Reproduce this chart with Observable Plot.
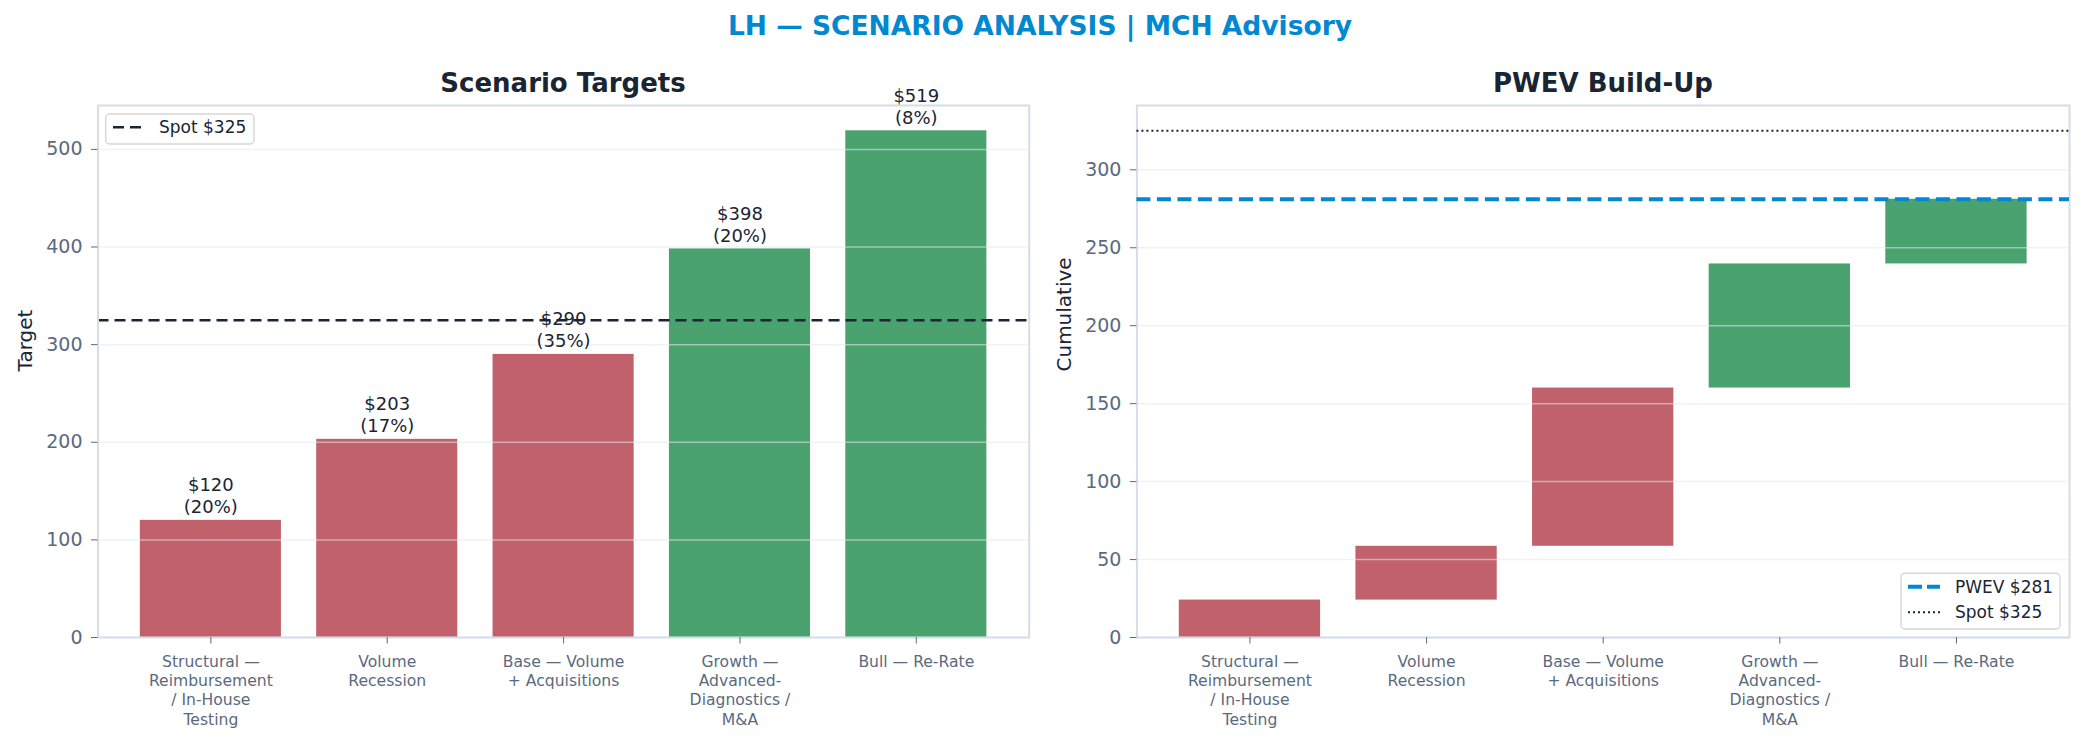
<!DOCTYPE html>
<html><head><meta charset="utf-8">
<script src="https://cdn.jsdelivr.net/npm/d3@7"></script>
<script src="https://cdn.jsdelivr.net/npm/@observablehq/plot@0.6"></script>
<style>
body{margin:0;background:#fff;font-family:"DejaVu Sans",sans-serif;}
#root{position:relative;width:2083px;height:742px;overflow:hidden;background:#fff;}
#root > svg, #root > div{position:absolute;top:0;}
</style></head><body><div id="root"></div>
<script>
// ---- data ----
const scenarios = [
  "Structural — Reimbursement / In-House Testing",
  "Volume Recession",
  "Base — Volume + Acquisitions",
  "Growth — Advanced-Diagnostics / M&A",
  "Bull — Re-Rate"
];
const tickLabels = [
  "Structural —\nReimbursement\n/ In-House\nTesting",
  "Volume\nRecession",
  "Base — Volume\n+ Acquisitions",
  "Growth —\nAdvanced-\nDiagnostics /\nM&A",
  "Bull — Re-Rate"
];
const targets = [120, 203, 290, 398, 519];
const probs = [0.20, 0.17, 0.35, 0.20, 0.08];
const spot = 325;
const yTicksLeft = [0, 100, 200, 300, 400, 500];
const yTicksRight = [0, 50, 100, 150, 200, 250, 300];

// ---- derived ----
const contrib = targets.map((t, i) => t * probs[i]);
const cum = Array.from(d3.cumsum(contrib));
const pwev = cum[cum.length - 1];
const rows = scenarios.map((s, i) => ({
  s, label: tickLabels[i], target: targets[i], prob: probs[i],
  y1: i ? cum[i - 1] : 0, y2: cum[i]
}));

const RED = "#c1616b", GREEN = "#4aa26e", INK = "#1a2533", TICK = "#5a6a7e", SPINE = "#d5dde7";
const barColor = d => d.target >= spot ? GREEN : RED;
const FONT = "DejaVu Sans";

function common(yTicks, labelText) {
  return [
    Plot.gridY(yTicks, {stroke: "#e4e9ef", strokeOpacity: 0.55, strokeWidth: 1.5}),
    Plot.frame({stroke: SPINE, strokeWidth: 2}),
    Plot.axisY({ticks: yTicks, tickSize: 6.5, tickPadding: 9, fontSize: 19, color: TICK, label: null}),
    Plot.axisX({tickSize: 6.5, tickFormat: () => "", color: TICK, label: null}),
    Plot.text(rows, {x: "s", text: "label", frameAnchor: "bottom", lineAnchor: "top", dy: 16,
      fontSize: 15.6, lineHeight: 1.23, fill: TICK}),
    Plot.text([labelText], {text: d => d, frameAnchor: "left", rotate: -90, dx: -72.5, fontSize: 20, fill: INK})
  ];
}

const xScale = {type: "band", domain: scenarios, paddingInner: 0.2, paddingOuter: 0.24, align: 0.5, round: false};

const left = Plot.plot({
  width: 1040, height: 742,
  marginLeft: 97.5, marginRight: 11.3, marginTop: 105, marginBottom: 105,
  style: {fontFamily: FONT, background: "transparent", overflow: "visible"},
  x: xScale,
  y: {domain: [0, d3.max(targets) * 1.05]},
  color: {type: "identity"},
  marks: [
    Plot.barY(rows, {x: "s", y: "target", fill: barColor}),
    Plot.ruleY([spot], {stroke: INK, strokeWidth: 2.6, strokeDasharray: "11,6"}),
    ...common(yTicksLeft, "Target"),
    Plot.text(rows, {x: "s", y: "target",
      text: d => `$${d.target}\n(${Math.round(d.prob * 100)}%)`,
      lineAnchor: "bottom", lineHeight: 1.24, dy: -7, fontSize: 18, fill: INK})
  ]
});
left.style.left = "0px";

const right = Plot.plot({
  width: 1043, height: 742,
  marginLeft: 96.4, marginRight: 14, marginTop: 105, marginBottom: 105,
  style: {fontFamily: FONT, background: "transparent", overflow: "visible"},
  x: xScale,
  y: {domain: [0, spot * 1.05]},
  color: {type: "identity"},
  marks: [
    Plot.barY(rows, {x: "s", y1: "y1", y2: "y2", fill: barColor}),
    ...common(yTicksRight, "Cumulative"),
    Plot.ruleY([pwev], {stroke: "#0288d1", strokeWidth: 4, strokeDasharray: "14,6.5"}),
    Plot.ruleY([spot], {stroke: INK, strokeWidth: 2, strokeDasharray: "2,3"})
  ]
});
right.style.left = "1040px";

const root = document.getElementById("root");
root.appendChild(left);
root.appendChild(right);

// ---- overlay: titles & legends ----
const ns = "http://www.w3.org/2000/svg";
const ov = document.createElementNS(ns, "svg");
ov.setAttribute("width", 2083); ov.setAttribute("height", 742);
ov.style.left = "0px"; ov.style.pointerEvents = "none";
ov.setAttribute("font-family", FONT);
function el(tag, attrs, txt) {
  const e = document.createElementNS(ns, tag);
  for (const k in attrs) e.setAttribute(k, attrs[k]);
  if (txt != null) e.textContent = txt;
  ov.appendChild(e); return e;
}
el("text", {x: 1040, y: 35, "text-anchor": "middle", "font-size": 26.5, "font-weight": "bold", fill: "#0288d1"},
  "LH — SCENARIO ANALYSIS | MCH Advisory");
el("text", {x: 563, y: 92, "text-anchor": "middle", "font-size": 26, "font-weight": "bold", fill: INK}, "Scenario Targets");
el("text", {x: 1603, y: 92, "text-anchor": "middle", "font-size": 26, "font-weight": "bold", fill: INK}, "PWEV Build-Up");

// left legend
el("rect", {x: 105.7, y: 114, width: 148.3, height: 30, rx: 4, fill: "#fff", "fill-opacity": 0.9, stroke: "#d6d6d6", "stroke-width": 1.4});
el("line", {x1: 113, x2: 141.7, y1: 127.3, y2: 127.3, stroke: INK, "stroke-width": 2.6, "stroke-dasharray": "11,6"});
el("text", {x: 159, y: 133.3, "font-size": 17, fill: INK}, `Spot $${spot}`);

// right legend
el("rect", {x: 1901, y: 573.3, width: 159, height: 55.7, rx: 4, fill: "#fff", "fill-opacity": 0.9, stroke: "#d6d6d6", "stroke-width": 1.4});
el("line", {x1: 1908, x2: 1940, y1: 586.7, y2: 586.7, stroke: "#0288d1", "stroke-width": 4, "stroke-dasharray": "14,5"});
el("text", {x: 1955, y: 593.3, "font-size": 17, fill: INK}, `PWEV $${Math.round(pwev)}`);
el("line", {x1: 1908, x2: 1940, y1: 612.3, y2: 612.3, stroke: INK, "stroke-width": 2, "stroke-dasharray": "2,3"});
el("text", {x: 1955, y: 618.3, "font-size": 17, fill: INK}, `Spot $${spot}`);

root.appendChild(ov);
</script>
</body></html>
